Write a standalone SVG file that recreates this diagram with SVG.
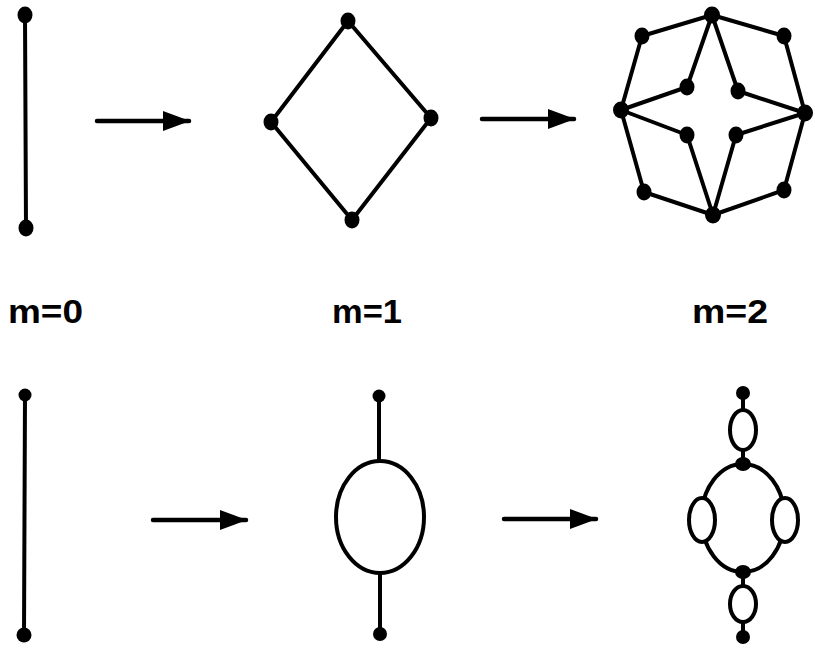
<svg xmlns="http://www.w3.org/2000/svg" width="815" height="650" viewBox="0 0 815 650">
<style>
.e{stroke:#000;stroke-width:4;fill:none;stroke-linecap:round}
.a{stroke:#000;stroke-width:4.5;fill:none;stroke-linecap:round}
.n{fill:#000}
.o{stroke:#000;stroke-width:4;fill:#fff}
.t{font-family:"Liberation Sans",Arial,sans-serif;font-weight:bold;font-size:33px;fill:#000}
</style>
<defs>
<marker id="ah" viewBox="0 0 27 20" refX="26" refY="10" markerWidth="27" markerHeight="20" markerUnits="userSpaceOnUse" orient="auto">
<path d="M0,0 L27,10 L0,20 Z" fill="#000"/>
</marker>
</defs>
<rect width="815" height="650" fill="#fff"/>
<g id="connectors">
<line class="e" x1="25" y1="15" x2="26" y2="228"/>
<line class="a" x1="97" y1="121" x2="189" y2="121" marker-end="url(#ah)"/>
<polygon class="e" points="348,21 431,118 352,220 271,122" stroke-linejoin="round"/>
<line class="a" x1="482" y1="119" x2="574" y2="119" marker-end="url(#ah)"/>
<g class="e">
<line x1="712" y1="15" x2="642" y2="36"/>
<line x1="712" y1="15" x2="784" y2="36"/>
<line x1="642" y1="36" x2="621" y2="110"/>
<line x1="784" y1="36" x2="805" y2="113"/>
<line x1="621" y1="110" x2="644" y2="192"/>
<line x1="805" y1="113" x2="784" y2="190"/>
<line x1="644" y1="192" x2="713" y2="215"/>
<line x1="784" y1="190" x2="713" y2="215"/>
<line x1="712" y1="15" x2="687" y2="87"/>
<line x1="712" y1="15" x2="738" y2="91"/>
<line x1="687" y1="87" x2="621" y2="110"/>
<line x1="738" y1="91" x2="805" y2="113"/>
<line x1="621" y1="110" x2="687" y2="135"/>
<line x1="805" y1="113" x2="736" y2="135"/>
<line x1="687" y1="135" x2="713" y2="215"/>
<line x1="736" y1="135" x2="713" y2="215"/>
</g>
<line class="e" x1="25" y1="395" x2="24" y2="635"/>
<line class="a" x1="153" y1="520" x2="246" y2="520" marker-end="url(#ah)"/>
<line class="e" x1="379" y1="396" x2="379" y2="461"/>
<line class="e" x1="380" y1="573" x2="380" y2="634"/>
<line class="a" x1="504" y1="519" x2="596" y2="519" marker-end="url(#ah)"/>
<line class="e" x1="743" y1="393" x2="743" y2="464"/>
<line class="e" x1="743" y1="572" x2="743" y2="637"/>
</g>
<g id="m0-top"><ellipse class="n" cx="25" cy="15" rx="7.5" ry="8.5"/><ellipse class="n" cx="26" cy="228" rx="7.5" ry="8.5"/></g>
<g id="m1-top">
<ellipse class="n" cx="348" cy="21" rx="7.5" ry="8.5"/>
<ellipse class="n" cx="271" cy="122" rx="7.5" ry="8.5"/>
<ellipse class="n" cx="431" cy="118" rx="7.5" ry="8.5"/>
<ellipse class="n" cx="352" cy="220" rx="7.5" ry="8.5"/>
</g>
<g id="m2-top">
<ellipse class="n" cx="712" cy="15" rx="8" ry="8.5"/>
<ellipse class="n" cx="642" cy="36" rx="7.5" ry="8.5"/>
<ellipse class="n" cx="784" cy="36" rx="7.5" ry="8.5"/>
<ellipse class="n" cx="621" cy="110" rx="8" ry="8.5"/>
<ellipse class="n" cx="805" cy="113" rx="8" ry="8.5"/>
<ellipse class="n" cx="644" cy="192" rx="7.5" ry="8.5"/>
<ellipse class="n" cx="784" cy="190" rx="7.5" ry="8.5"/>
<ellipse class="n" cx="713" cy="215" rx="8" ry="8.5"/>
<ellipse class="n" cx="687" cy="87" rx="7.5" ry="8.5"/>
<ellipse class="n" cx="738" cy="91" rx="7.5" ry="8.5"/>
<ellipse class="n" cx="687" cy="135" rx="7.5" ry="8.5"/>
<ellipse class="n" cx="736" cy="135" rx="7.5" ry="8.5"/>
</g>
<g id="labels">
<text class="t" x="8" y="323" textLength="75" lengthAdjust="spacingAndGlyphs">m=0</text>
<text class="t" x="332" y="323" textLength="70" lengthAdjust="spacingAndGlyphs">m=1</text>
<text class="t" x="692" y="323" textLength="76" lengthAdjust="spacingAndGlyphs">m=2</text>
</g>
<g id="m0-bottom"><circle class="n" cx="25" cy="395" r="6.5"/><circle class="n" cx="24" cy="635" r="7.5"/></g>
<g id="m1-bottom">
<ellipse class="o" cx="380" cy="517" rx="44" ry="56"/>
<circle class="n" cx="379" cy="396" r="6.5"/>
<circle class="n" cx="380" cy="634" r="7"/>
</g>
<g id="m2-bottom">
<ellipse class="e" cx="743" cy="518" rx="41.5" ry="54"/>
<ellipse class="o" cx="743" cy="430" rx="13" ry="20"/>
<ellipse class="o" cx="702" cy="520" rx="13" ry="22"/>
<ellipse class="o" cx="785" cy="520" rx="13" ry="22"/>
<ellipse class="o" cx="743" cy="604" rx="13" ry="18"/>
<circle class="n" cx="743" cy="393" r="7"/>
<ellipse class="n" cx="743" cy="464" rx="8" ry="7"/>
<ellipse class="n" cx="743" cy="572" rx="8" ry="7"/>
<circle class="n" cx="743" cy="637" r="7"/>
</g>
</svg>
